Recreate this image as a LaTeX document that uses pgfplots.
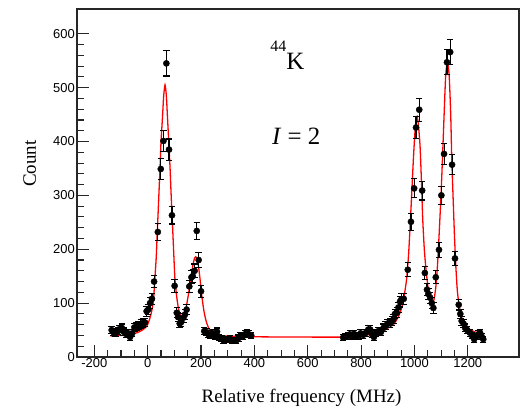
\documentclass[border=0pt]{standalone}
\usepackage{pgfplots}
\pgfplotsset{compat=1.18}
\usepackage{pgfplotstable}
\usepackage{fontspec}
\setmainfont{Liberation Serif}
\newfontfamily\arial{Liberation Sans}

\pgfplotstableread{
x y e
-135 50 7.1
-128 46 6.8
-120 44 6.6
-112 48 6.9
-105 52 7.2
-97 54 7.3
-90 47 6.9
-82 43 6.6
-74 44 6.6
-66 37 6.1
-58 44 6.6
-50 55 7.4
-42 56 7.5
-34 58 7.6
-26 61 7.8
-18 63 7.9
-10 64 8.0
-4 85 9.2
2 88 9.4
9 100 10.0
16 108 10.4
24 140 11.8
38 232 15.2
49 349 18.7
59 401 20.0
70 545 23.3
80 385 19.6
91 263 16.2
101 132 11.5
109 82 9.1
114 74 8.6
120 62 7.9
126 65 8.1
134 73 8.5
140 79 8.9
146 88 9.4
156 131 11.4
164 148 12.2
169 150 12.2
176 160 12.6
184 234 15.3
191 180 13.4
200 122 11.0
212 48 6.9
220 46 6.8
228 42 6.5
236 40 6.3
244 44 6.6
252 38 6.2
260 47 6.9
268 36 6.0
276 34 5.8
284 31 5.6
292 33 5.7
300 32 5.7
308 34 5.8
316 30 5.5
324 31 5.6
332 31 5.6
340 35 5.9
348 40 6.3
356 38 6.2
364 42 6.5
372 44 6.6
380 42 6.5
388 40 6.3
733 36 6.0
741 38 6.2
750 39 6.2
758 42 6.5
766 38 6.2
773 43 6.6
780 40 6.3
790 39 6.2
798 44 6.6
808 41 6.4
818 45 6.7
827 51 7.1
834 51 7.1
841 42 6.5
848 37 6.1
855 44 6.6
865 48 6.9
874 46 6.8
884 54 7.3
892 58 7.6
899 62 7.9
909 63 7.9
915 67 8.2
921 70 8.4
927 80 8.9
934 82 9.1
940 92 9.6
946 103 10.1
951 107 10.3
960 108 10.4
975 162 12.7
987 251 15.8
999 313 17.7
1006 426 20.6
1018 459 21.4
1029 309 17.6
1039 156 12.5
1047 125 11.2
1052 117 10.8
1059 110 10.5
1065 100 10.0
1071 91 9.5
1080 148 12.2
1092 199 14.1
1101 300 17.3
1111 377 19.4
1122 547 23.4
1134 566 23.8
1141 357 18.9
1152 183 13.5
1166 97 9.8
1172 80 8.9
1177 67 8.2
1184 62 7.9
1190 54 7.3
1198 50 7.1
1208 45 6.7
1216 40 6.3
1224 33 5.7
1232 38 6.2
1240 42 6.5
1246 45 6.7
1252 38 6.2
1258 33 5.7
}\datatable

\pgfplotstableread{
x y
-140 39
-100 40
-60 43
-40 45
-20 50
-4 57
5 67
15 85
22 108
27 146
32 185
36 232
41 290
46 349
50 400
55 441
60 485
65 505
70 485
74 447
79 400
84 349
88 300
92 257
97 200
102 146
108 115
115 91
122 78
131 73
138 80
146 97
154 120
162 146
170 172
176 184
180 186
185 182
190 170
196 146
203 113
211 85
220 65
234 48
250 42
270 40
296 39
350 38
400 37.5
571 37
733 37
800 39
859 45
890 51
921 60
940 75
952 91
962 115
971 146
978 190
984 245
990 305
996 367
1001 410
1006 441
1010 447
1015 430
1021 392
1026 330
1031 257
1037 200
1044 159
1050 133
1056 116
1062 104
1067 98
1074 108
1081 134
1087 175
1093 232
1100 305
1106 380
1112 460
1117 521
1123 548
1127 540
1131 515
1136 450
1140 367
1145 295
1150 226
1155 170
1161 122
1168 95
1177 73
1190 60
1208 51
1230 46
1255 43
}\fittable

\begin{document}
\begin{tikzpicture}
\begin{axis}[
  scale only axis,
  width=442bp, height=348bp,
  xmin=-265, xmax=1392, ymin=0, ymax=646,
  xtick={-200,0,200,400,600,800,1000,1200},
  ytick={0,100,200,300,400,500,600},
  minor x tick num=3, minor y tick num=4,
  tick align=inside, tick pos=left,
  major tick length=12bp, minor tick length=7bp,
  axis line style={line width=1.3pt, black!85},
  every tick/.style={black!85, line width=1.1pt},
  tick label style={font=\arial\fontsize{13}{15}\selectfont},
  xticklabel style={inner sep=1.5bp},
  yticklabel style={inner sep=2bp},
  /pgf/number format/assume math mode=true,
  /pgf/number format/1000 sep={},
  xlabel={Relative frequency (MHz)},
  ylabel={Count},
  label style={font=\fontsize{19}{22}\selectfont},
  xlabel style={at={(axis description cs:0.508,-0.132)}, anchor=base},
  ylabel style={at={(axis description cs:-0.093,0.556)}, anchor=base},
  clip=false,
]
\addplot[red, line width=1.3pt, smooth, tension=0.4] table[x=x,y=y] {\fittable};
\addplot[only marks, black, mark=*, mark size=3.1bp,
  error bars/.cd, y dir=both, y explicit,
  error bar style={line width=1.1pt, black},
  error mark options={rotate=90, mark size=3.2bp, line width=1.1pt, black}]
  table[x=x, y=y, y error=e] {\datatable};
\node[anchor=base west, inner sep=0pt] at (axis cs:459,533)
  {\raisebox{18bp}{\fontsize{16}{16}\selectfont 44}\fontsize{25}{25}\selectfont K};
\node[anchor=base west, inner sep=0pt] at (axis cs:466,395)
  {\fontsize{25}{25}\selectfont\textit{I} = 2};
\end{axis}
\pgfresetboundingbox
\path (current axis.south west) ++(-77bp,-51bp) (current axis.north east) ++(4bp,9bp);
\end{tikzpicture}
\end{document}
